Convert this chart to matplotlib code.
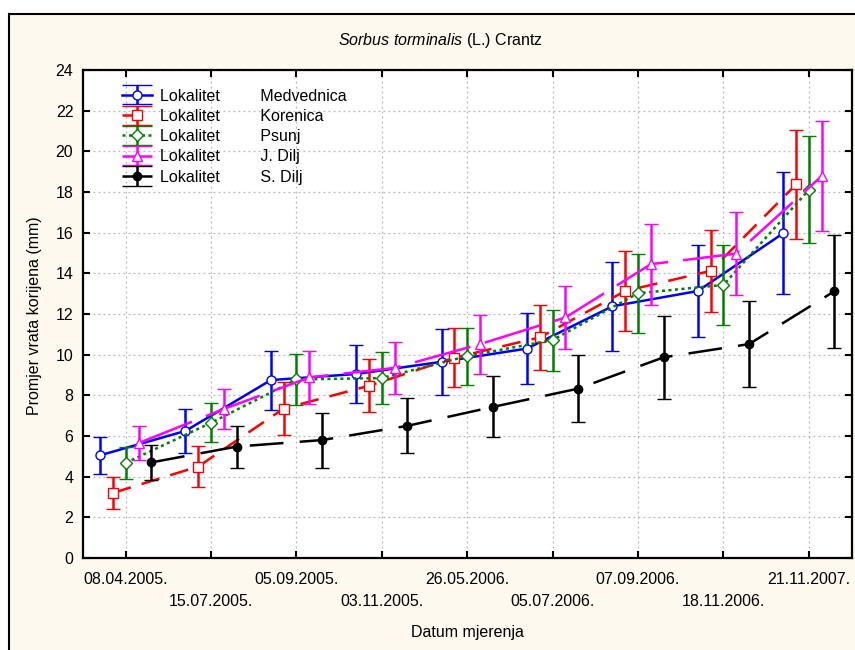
import numpy as np
import matplotlib
matplotlib.use('Agg')
import matplotlib.pyplot as plt
from matplotlib.patches import Rectangle
from matplotlib.legend_handler import HandlerErrorbar

plt.rcParams['font.family'] = ['Liberation Sans', 'DejaVu Sans']
plt.rcParams['mathtext.fontset'] = 'custom'
plt.rcParams['mathtext.rm'] = 'Liberation Sans'
plt.rcParams['mathtext.it'] = 'Liberation Sans:italic'

dates = ['08.04.2005.', '15.07.2005.', '05.09.2005.', '03.11.2005.', '26.05.2006.',
         '05.07.2006.', '07.09.2006.', '18.11.2006.', '21.11.2007.']
sites = ['Medvednica', 'Korenica', 'Psunj', 'J. Dilj', 'S. Dilj']

medvednica = [5.05, 6.25, 8.75, 9.05, 9.65, 10.3, 12.38, 13.13, 15.97]
medvednica_err = [0.9, 1.1, 1.45, 1.42, 1.62, 1.74, 2.2, 2.25, 3.0]
korenica = [3.2, 4.5, 7.35, 8.47, 9.85, 10.85, 13.13, 14.12, 18.37]
korenica_err = [0.8, 1.0, 1.3, 1.3, 1.45, 1.6, 1.97, 2.03, 2.7]
psunj = [4.68, 6.65, 8.78, 8.85, 9.93, 10.72, 13.02, 13.43, 18.1]
psunj_err = [0.8, 0.95, 1.25, 1.27, 1.4, 1.5, 1.93, 1.97, 2.63]
jdilj = [5.65, 7.33, 8.88, 9.35, 10.52, 11.83, 14.45, 14.97, 18.78]
jdilj_err = [0.82, 1.0, 1.3, 1.28, 1.45, 1.56, 2.0, 2.03, 2.7]
sdilj = [4.7, 5.48, 5.8, 6.5, 7.43, 8.33, 9.87, 10.52, 13.12]
sdilj_err = [0.84, 1.03, 1.35, 1.35, 1.5, 1.63, 2.05, 2.1, 2.77]

means = [medvednica, korenica, psunj, jdilj, sdilj]
errs = [medvednica_err, korenica_err, psunj_err, jdilj_err, sdilj_err]
colors = ['#0000ff', '#ff0000', '#008000', '#ff00ff', '#000000']
markers = ['o', 's', 'D', '^', 'o']
msizes = [6.5, 6.5, 6, 7, 6]
faces = ['white', 'white', 'white', 'white', 'black']
dashes = [None, (7.5, 4.5), (1.2, 1.4), (23, 6), (13.5, 6.5)]
offsets = [-0.3, -0.15, 0.0, 0.15, 0.3]


class WideCapHandler(HandlerErrorbar):
    # statistica style legend: caps as wide as the handle
    def create_artists(self, legend, orig_handle, xdescent, ydescent,
                       width, height, fontsize, trans):
        arts = super().create_artists(legend, orig_handle, xdescent, ydescent,
                                      width, height, fontsize, trans)
        for a in arts:
            if hasattr(a, 'get_marker') and a.get_marker() == '_':
                a.set_markersize(width)
        return arts


fig = plt.figure(figsize=(8.55, 6.5), dpi=100)
fig.patch.set_facecolor('white')
fig.patches.append(Rectangle((9 / 855, -0.05), 1.0, 0.05 + 1 - 14 / 650,
                             transform=fig.transFigure, facecolor='#fef9ee',
                             edgecolor='black', lw=1.5, zorder=-10))

ax = fig.add_axes([83 / 855, 1 - 558 / 650, (851.5 - 83) / 855, (558 - 70) / 650])
ax.set_facecolor('white')

x = np.arange(1, len(dates) + 1)
handles = []
for i in range(5):
    eb = ax.errorbar(x + offsets[i], means[i], yerr=errs[i], color=colors[i],
                     lw=1.8, elinewidth=1.8, capsize=5, capthick=1.8,
                     marker=markers[i], ms=msizes[i], mfc=faces[i],
                     mec=colors[i], mew=1.0, label='Lokalitet         ' + sites[i],
                     zorder=3 + i)
    if dashes[i] is not None:
        eb[0].set_dashes(dashes[i])
    handles.append(eb)

ax.set_xlim(0.5, 9.5)
ax.set_ylim(0, 24)
ax.set_yticks(np.arange(0, 25, 2))
ax.set_xticks(x)
labels = [d if k % 2 == 0 else '\n' + d for k, d in enumerate(dates)]
ax.set_xticklabels(labels, linespacing=1.6)
ax.tick_params(axis='both', direction='in', length=5, width=1.5,
               labelsize=11.5, top=True, right=True)
ax.tick_params(axis='x', pad=10)
ax.tick_params(axis='y', pad=7)
for s in ax.spines.values():
    s.set_linewidth(1.6)
ax.grid(True, color='#b8b8b8', ls=(0, (1.5, 2.5)), lw=0.9)
ax.set_axisbelow(True)

leg = ax.legend(handles=handles, loc='upper left', bbox_to_anchor=(0.036, 0.985),
                frameon=False, fontsize=11.5, handlelength=1.9, handletextpad=0.5,
                labelspacing=0.33, borderaxespad=0.3,
                handler_map={type(handles[0]): WideCapHandler(xerr_size=0.6)})

fig.text(440 / 855, 1 - 41 / 650, r'$\it{Sorbus\ torminalis}$ (L.) Crantz',
         ha='center', va='center', fontsize=11.5)
fig.text(35 / 855, 1 - 316 / 650, 'Promjer vrata korijena (mm)', rotation=90,
         ha='center', va='center', fontsize=11.5)
fig.text(467 / 855, 1 - 633 / 650, 'Datum mjerenja', ha='center', va='center',
         fontsize=11.5)

fig.savefig('out.png', dpi=100, facecolor=fig.get_facecolor())
